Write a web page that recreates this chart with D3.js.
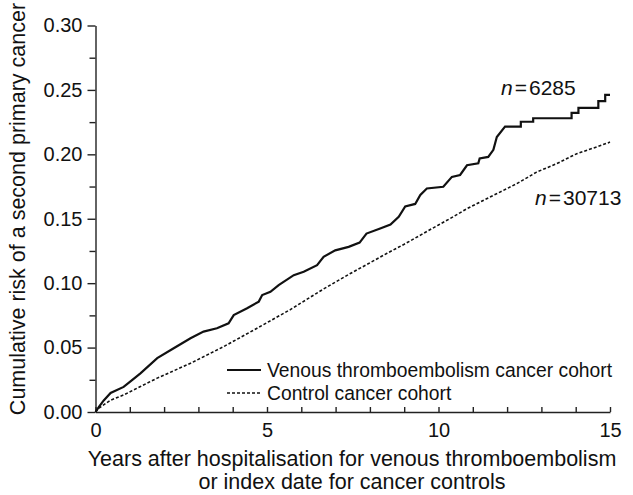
<!DOCTYPE html>
<html>
<head>
<meta charset="utf-8">
<script src="https://cdn.jsdelivr.net/npm/d3@7"></script>
<style>
  html, body { margin: 0; padding: 0; background: #fff; }
  svg text { font-family: "Liberation Sans", Arial, Helvetica, sans-serif; fill: #111; }
</style>
</head>
<body>
<svg id="chart" width="633" height="495"></svg>
<script>
// ---- Data ----
const seriesNames = ["Venous thromboembolism cancer cohort", "Control cancer cohort"];
const seriesN = ["6285", "30713"];

const vteYears = [0, 0.1, 0.24, 0.44, 0.82, 1.02, 1.31, 1.80, 2.28, 2.77, 3.15, 3.54, 3.88, 4.03, 4.42, 4.76, 4.86, 5.10, 5.34, 5.78, 6.07, 6.46, 6.65, 6.99, 7.38, 7.7, 7.9, 8.3, 8.6, 8.84, 9.03, 9.32, 9.47, 9.66, 10.14, 10.39, 10.63, 10.83, 11.16, 11.2, 11.45, 11.6, 11.7, 11.94, 12.4, 12.4, 12.76, 12.76, 13.88, 13.88, 14.08, 14.08, 14.66, 14.66, 14.86, 14.86, 15.0];
const vteRisk  = [0, 0.004, 0.009, 0.0148, 0.0195, 0.0238, 0.030, 0.0418, 0.0495, 0.0572, 0.0624, 0.065, 0.0688, 0.0752, 0.0805, 0.0857, 0.0908, 0.0933, 0.0985, 0.1062, 0.1088, 0.114, 0.1205, 0.1255, 0.1282, 0.1315, 0.1385, 0.1425, 0.1455, 0.1515, 0.1595, 0.1615, 0.1685, 0.1735, 0.1748, 0.1825, 0.184, 0.1915, 0.193, 0.1968, 0.198, 0.2035, 0.2135, 0.2215, 0.2215, 0.2253, 0.2253, 0.228, 0.228, 0.2322, 0.2322, 0.236, 0.236, 0.2413, 0.2413, 0.2462, 0.2462];

const ctrlYears = [0, 0.1, 0.44, 0.82, 1.31, 1.80, 2.77, 3.74, 4.71, 5.68, 6.65, 7.43, 8.0, 8.5, 9.0, 9.5, 10.0, 10.34, 10.83, 11.5, 12.28, 12.86, 13.45, 14.03, 14.61, 15.0];
const ctrlRisk  = [0, 0.003, 0.0092, 0.0132, 0.0198, 0.0263, 0.0378, 0.0508, 0.065, 0.0795, 0.0955, 0.1075, 0.1158, 0.1232, 0.1302, 0.1377, 0.1452, 0.1502, 0.1578, 0.1668, 0.1772, 0.1862, 0.1928, 0.2005, 0.2057, 0.2095];

const yMajorTicks = [0, 0.05, 0.10, 0.15, 0.20, 0.25, 0.30];
const yMinorTicks = [0.025, 0.075, 0.125, 0.175, 0.225, 0.275];
const xMajorTicks = [0, 5, 10, 15];
const xMinorTicks = [1, 2, 3, 4, 6, 7, 8, 9, 11, 12, 13, 14];

const yTitle = "Cumulative risk of a second primary cancer";
const xTitle = ["Years after hospitalisation for venous thromboembolism", "or index date for cancer controls"];

// ---- Layout ----
const svg = d3.select("#chart");
const x = d3.scaleLinear().domain([0, 15]).range([95.5, 610]);
const y = d3.scaleLinear().domain([0, 0.30]).range([412, 25.5]);

const axisColor = "#222";

// Y axis (major ticks with labels, outward)
const gy = svg.append("g").attr("transform", `translate(${x(0)},0)`)
  .call(d3.axisLeft(y).tickValues(yMajorTicks).tickFormat(d3.format(".2f")).tickSize(8).tickSizeOuter(0).tickPadding(5));
gy.selectAll("text").style("font-size", "20px").attr("fill", "#111");
// minor y ticks
const gyMinor = svg.append("g").attr("transform", `translate(${x(0)},0)`)
  .call(d3.axisLeft(y).tickValues(yMinorTicks).tickFormat("").tickSize(6).tickSizeOuter(0));
gyMinor.select(".domain").remove();

// X axis (ticks inward, labels below)
const gx = svg.append("g").attr("transform", `translate(0,${y(0)})`)
  .call(d3.axisBottom(x).tickValues(xMajorTicks).tickFormat(d3.format("d")).tickSize(-5).tickSizeOuter(0).tickPadding(11));
gx.selectAll("text").style("font-size", "20px").attr("fill", "#111").attr("dy", "0.71em");
const gxMinor = svg.append("g").attr("transform", `translate(0,${y(0)})`)
  .call(d3.axisBottom(x).tickValues(xMinorTicks).tickFormat("").tickSize(-5).tickSizeOuter(0));
gxMinor.select(".domain").remove();

svg.selectAll(".domain, .tick line").attr("stroke", axisColor).attr("stroke-width", 1.4);

// Lines
const line = d3.line().x(d => x(d[0])).y(d => y(d[1]));
const vteData = vteYears.map((t, i) => [t, vteRisk[i]]);
const ctrlData = ctrlYears.map((t, i) => [t, ctrlRisk[i]]);

svg.append("path").datum(ctrlData)
  .attr("d", line).attr("fill", "none").attr("stroke", "#111")
  .attr("stroke-width", 1.6).attr("stroke-dasharray", "3,2");
svg.append("path").datum(vteData)
  .attr("d", line).attr("fill", "none").attr("stroke", "#111")
  .attr("stroke-width", 2.2).attr("stroke-linejoin", "miter");

// n labels
function nLabel(xp, yp, num) {
  const t = svg.append("text").attr("x", xp).attr("y", yp).style("font-size", "21px");
  t.append("tspan").style("font-style", "italic").text("n");
  t.append("tspan").attr("dx", 2).text("=");
  t.append("tspan").attr("dx", 2).text(num);
}
nLabel(501, 95, seriesN[0]);
nLabel(535, 205, seriesN[1]);

// Legend
const legend = svg.append("g");
const legendRows = [
  { name: seriesNames[0], dash: null, w: 2.2, yy: 370 },
  { name: seriesNames[1], dash: "3,2", w: 1.6, yy: 393 }
];
legendRows.forEach(r => {
  legend.append("line").attr("x1", 227).attr("x2", 261).attr("y1", r.yy).attr("y2", r.yy)
    .attr("stroke", "#111").attr("stroke-width", r.w).attr("stroke-dasharray", r.dash);
  legend.append("text").attr("x", 267).attr("y", r.yy + 7).style("font-size", "19.3px").text(r.name);
});

// Axis titles
svg.append("text").attr("transform", `translate(25,209) rotate(-90)`)
  .attr("text-anchor", "middle").style("font-size", "21.5px").text(yTitle);
svg.append("text").attr("x", 352).attr("y", 466).attr("text-anchor", "middle")
  .style("font-size", "21.5px").text(xTitle[0]);
svg.append("text").attr("x", 352).attr("y", 489).attr("text-anchor", "middle")
  .style("font-size", "21.5px").text(xTitle[1]);
</script>
</body>
</html>
